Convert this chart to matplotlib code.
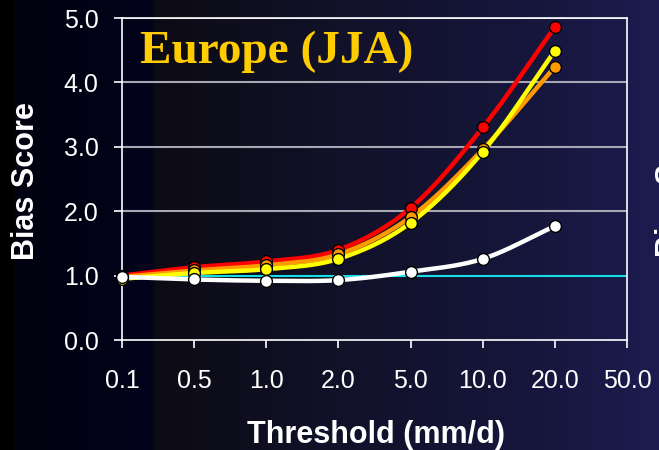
import numpy as np
import matplotlib
matplotlib.use("Agg")
import matplotlib.pyplot as plt
from matplotlib.colors import LinearSegmentedColormap

thresholds = ["0.1", "0.5", "1.0", "2.0", "5.0", "10.0", "20.0", "50.0"]
red_vals = [1.00, 1.13, 1.22, 1.40, 2.05, 3.30, 4.86]
orange_vals = [0.98, 1.08, 1.16, 1.33, 1.91, 2.96, 4.24]
yellow_vals = [0.95, 1.04, 1.10, 1.26, 1.82, 2.92, 4.49]
white_vals = [0.98, 0.94, 0.92, 0.93, 1.06, 1.26, 1.77]
y_ticks = [0.0, 1.0, 2.0, 3.0, 4.0, 5.0]


def smooth(x, y, n=30):
    x = np.asarray(x, float)
    y = np.asarray(y, float)
    px = np.concatenate([[2 * x[0] - x[1]], x, [2 * x[-1] - x[-2]]])
    py = np.concatenate([[2 * y[0] - y[1]], y, [2 * y[-1] - y[-2]]])
    xs, ys = [], []
    for i in range(1, len(px) - 2):
        t = np.linspace(0, 1, n, endpoint=(i == len(px) - 3))
        p0, p1, p2, p3 = (np.array([px[j], py[j]]) for j in (i - 1, i, i + 1, i + 2))
        t2, t3 = t * t, t * t * t
        pts = 0.5 * ((2 * p1)[:, None] + (-p0 + p2)[:, None] * t
                     + (2 * p0 - 5 * p1 + 4 * p2 - p3)[:, None] * t2
                     + (-p0 + 3 * p1 - 3 * p2 + p3)[:, None] * t3)
        xs.append(pts[0]); ys.append(pts[1])
    return np.concatenate(xs), np.concatenate(ys)


W, H = 659, 450
fig = plt.figure(figsize=(W / 100, H / 100), dpi=100)

# background gradient
bg = fig.add_axes([0, 0, 1, 1], zorder=-10)
cmap = LinearSegmentedColormap.from_list(
    "bg", [(0.0, "#000000"), (0.018, "#000000"), (0.022, "#01010f"),
           (0.23, "#03031c"), (0.236, "#0c0b14"), (0.5, "#111128"),
           (0.8, "#16163c"), (1.0, "#1c1c50")])
grad = np.linspace(0, 1, 1024)[None, :]
bg.imshow(grad, aspect="auto", cmap=cmap, extent=[0, 1, 0, 1],
          interpolation="nearest")
bg.set_axis_off()

ax = fig.add_axes([122 / W, 110 / H, 505 / W, 322 / H])
ax.patch.set_alpha(0)

xpos = np.arange(len(thresholds))
ax.set_xlim(0, len(thresholds) - 1)
ax.set_ylim(0, 5)

for y in y_ticks[1:]:
    ax.axhline(y, color="#a8a8b4", lw=1.5, zorder=1)
ax.axhline(1.0, color="#00e5ee", lw=1.3, zorder=2)

series = [(red_vals, "#ff0000"), (orange_vals, "#ff9900"),
          (yellow_vals, "#ffff00"), (white_vals, "#ffffff")]
for vals, col in series:
    xx = xpos[:len(vals)]
    sx, sy = smooth(xx, vals)
    ax.plot(sx, sy, color=col, lw=3.2, zorder=3, solid_capstyle="round")
    ax.plot(xx, vals, "o", ms=8.5, mfc=col, mec="black", mew=1.0, zorder=4,
            clip_on=False)

for s in ["left", "bottom", "right", "top"]:
    ax.spines[s].set_color("#ffffff")
    ax.spines[s].set_linewidth(1.2)

ax.set_xticks(xpos)
ax.set_xticklabels(thresholds)
ax.set_yticks(y_ticks)
ax.set_yticklabels([f"{v:.1f}" for v in y_ticks])
ax.tick_params(axis="both", colors="white", labelcolor="white",
               labelsize=18, length=6, width=1.2, direction="out")
ax.tick_params(axis="x", pad=15)
ax.tick_params(axis="y", pad=11)
for lab in ax.get_xticklabels() + ax.get_yticklabels():
    lab.set_family("Liberation Sans")

fig.text(376 / W, 1 - 443 / H, "Threshold (mm/d)", color="white",
         fontsize=22, fontweight="bold", family="Liberation Sans",
         ha="center", va="baseline")
fig.text(26 / W, 1 - 181 / H, "Bias Score", rotation=90, color="white",
         fontsize=22, fontweight="bold", family="Liberation Sans",
         ha="center", va="center")

ax.text(0.036, 0.86, "Europe (JJA)", transform=ax.transAxes,
        color="#ffcc00", fontsize=34, fontweight="bold",
        family="Liberation Serif", ha="left", va="baseline", zorder=6)

# partially visible label of the neighbouring panel at the right edge
fig.text(655 / W, 1 - 178 / H, "Bias Score", rotation=90, color="white",
         fontsize=22, fontweight="bold", family="Liberation Sans",
         ha="left", va="center")

fig.savefig("out.png", dpi=100, facecolor="black")
